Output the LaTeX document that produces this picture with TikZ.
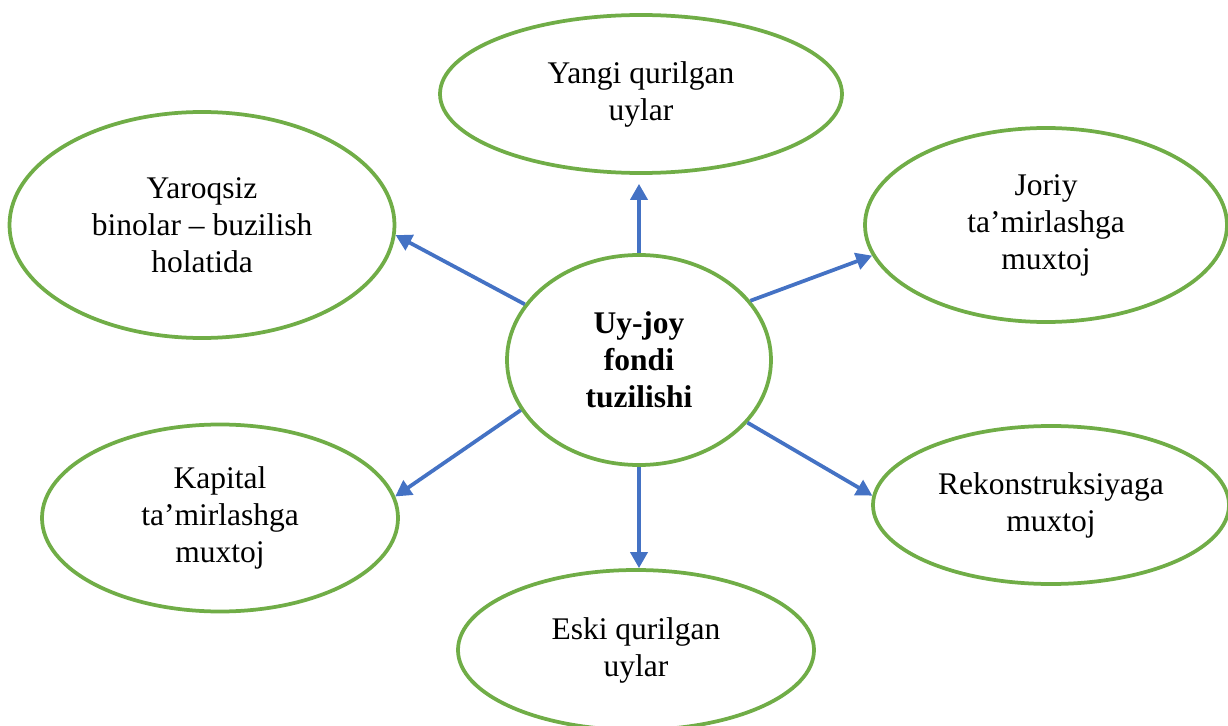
\documentclass[tikz,border=0pt]{standalone}
\usepackage{fontspec}
\setmainfont{Liberation Serif}
\usetikzlibrary{shapes.geometric,arrows.meta}
\definecolor{ovalgreen}{HTML}{70AD47}
\definecolor{arrowblue}{HTML}{4472C4}
\begin{document}
\begin{tikzpicture}[x=0.4pt,y=-0.4pt,font=\fontsize{12.6}{14.8}\selectfont,line join=round,
    oval/.style={ellipse,draw=ovalgreen,line width=1.5pt,inner sep=0pt,align=center},
    arr/.style={draw=arrowblue,line width=1.5pt,-{Triangle[length=6.4pt,width=6.8pt]}}]
    \useasboundingbox (0,0) rectangle (1228,726);
    \node[oval,font=\fontsize{12.6}{14.8}\selectfont\bfseries,minimum width=105.6pt,minimum height=84pt] (fond) at (639,360) {Uy-joy\\fondi\\tuzilishi};
    \node[oval,minimum width=160.8pt,minimum height=63.2pt] (yangi) at (641,94) {Yangi qurilgan\\uylar};
    \node[oval,minimum width=154pt,minimum height=90.4pt] (yaroqsiz) at (202,225) {Yaroqsiz\\binolar -- buzilish\\holatida};
    \node[oval,minimum width=144.8pt,minimum height=77.6pt] (joriy) at (1046,225) {Joriy\\ta’mirlashga\\muxtoj};
    \node[oval,minimum width=142.4pt,minimum height=74.8pt] (kapital) at (220,518) {Kapital\\ta’mirlashga\\muxtoj};
    \node[oval,minimum width=142.4pt,minimum height=63.2pt] (rekon) at (1051,505) {Rekonstruksiyaga\\muxtoj};
    \node[oval,minimum width=142.4pt,minimum height=64pt] (eski) at (636,650) {Eski qurilgan\\uylar};
    \draw[arr,shorten >=3.6pt] (fond.north) -- (fond.north |- yangi.south);
    \draw[arr] (fond.154) -- (yaroqsiz.-3);
    \draw[arr] (fond.28) -- (joriy.-170);
    \draw[arr] (fond.-157) -- (kapital.7);
    \draw[arr] (fond.-30) -- (rekon.177);
    \draw[arr] (fond.south) -- (fond.south |- eski.north);
\end{tikzpicture}
\end{document}
